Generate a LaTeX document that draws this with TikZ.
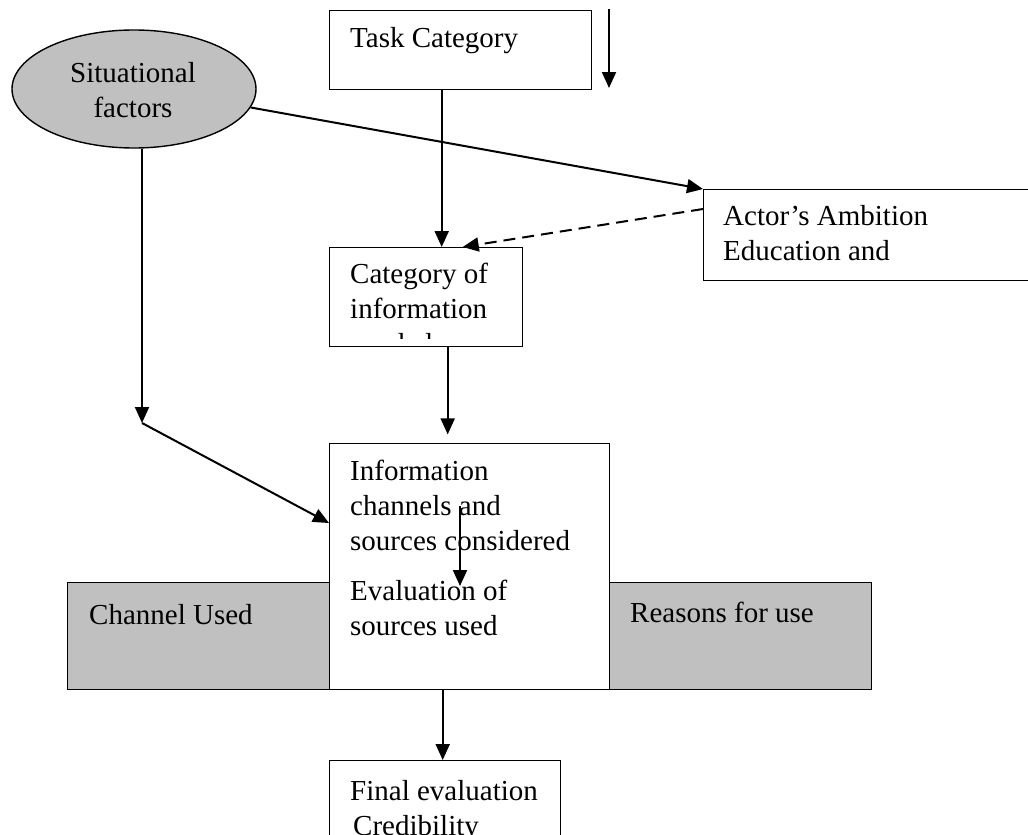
\documentclass[tikz,border=0pt]{standalone}
\usepackage{fontspec}
\setmainfont{Liberation Serif}
\usetikzlibrary{arrows.meta,shapes.geometric}
\definecolor{gray75}{HTML}{C0C0C0}
\begin{document}
\begin{tikzpicture}[x=1pt,y=-1pt,
  box/.style={draw,line width=1.4pt,fill=white,inner sep=0pt,anchor=north west},
  gbox/.style={box,fill=gray75},
  lbl/.style={inner sep=0pt,anchor=base west,align=left,font=\fontsize{29}{35}\selectfont},
  arr/.style={line width=2pt,-{Triangle[width=14pt,length=16pt]}},
]
\useasboundingbox (0,0) rectangle (1028,835);
% boxes (multi-line labels: base anchor sits on the last line)
\node[box,minimum width=262pt,minimum height=79pt] (task) at (329,10) {};
\node[lbl] (taskt) at (350,47) {Task Category};
\node[draw,ellipse,fill=gray75,line width=1.4pt,minimum width=244pt,minimum height=118pt,inner sep=0pt] (sit) at (134,89) {};
\node[lbl,align=center,anchor=base] (sitt) at (133,117) {Situational\\factors};
\node[box,minimum width=340pt,minimum height=91pt] (actor) at (703,189) {};
\node[lbl] (actort) at (723,260) {Actor’s Ambition\\Education and};
\node[box,minimum width=193pt,minimum height=99pt] (cat) at (329,247) {};
\begin{scope}
\clip (329,247) rectangle (522,338);
\node[lbl] (catt) at (350,353) {Category of\\information\\needed};
\end{scope}
\node[gbox,minimum width=262pt,minimum height=107pt] (chan) at (67,582) {};
\node[lbl] (chant) at (89,624) {Channel Used};
\node[gbox,minimum width=262pt,minimum height=107pt] (reas) at (609,582) {};
\node[lbl] (reast) at (630,622) {Reasons for use};
\node[box,minimum width=280pt,minimum height=246pt] (info) at (329,443) {};
\node[lbl] (infot) at (350,550) {Information\\channels and\\sources considered};
\node[lbl] (evalt) at (350,635) {Evaluation of\\sources used};
\node[box,minimum width=231pt,minimum height=100pt] (final) at (329,760) {};
\node[lbl] (finalt) at (350,835) {Final evaluation\\\hspace*{3pt}Credibility};
% connectors
\coordinate (ta1) at (609,9);
\coordinate (ta2) at (609,88);
\draw[arr] (ta1) -- (ta2);
\draw[arr] ([xshift=-19pt]task.south) -- ([xshift=-19pt]task.south |- cat.north);
\draw[arr] (sit.-9.5) -- (actor.north west);
\draw[arr,dash pattern=on 12pt off 7pt] ([yshift=-20pt]actor.north west) -- ([xshift=36.5pt]cat.north);
\coordinate (bend) at (142,423);
\draw[arr] (sit.south -| bend) -- (bend);
\draw[arr] (bend) -- ([yshift=-80pt]info.north west);
\draw[arr] ([xshift=21.5pt]cat.south) -- ++(0,87);
\coordinate (ia1) at (460,506);
\coordinate (ia2) at (460,586);
\draw[arr] (ia1) -- (ia2);
\draw[arr] ([xshift=-27pt]info.south) -- ([xshift=-2.5pt]final.north);
\end{tikzpicture}
\end{document}
